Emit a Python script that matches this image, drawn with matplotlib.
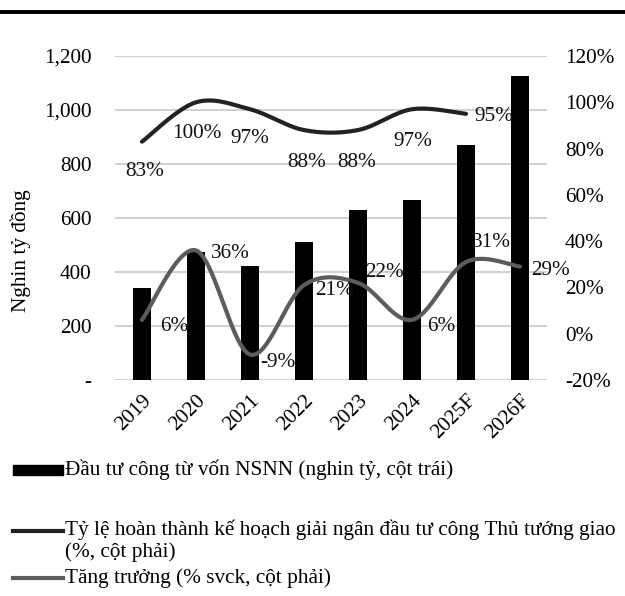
import numpy as np
import matplotlib
matplotlib.use("Agg")
import matplotlib.pyplot as plt
from matplotlib.lines import Line2D
from matplotlib.patches import Rectangle

plt.rcParams['font.family'] = ['Liberation Serif', 'DejaVu Serif']

years = ["2019", "2020", "2021", "2022", "2023", "2024", "2025F", "2026F"]
investment = [342, 475, 423, 512, 630, 667, 870, 1126]
completion = [83, 100, 97, 88, 88, 97, 95]
growth = [6, 36, -9, 21, 22, 6, 31, 29]

completion_offsets = [(3, -30), (1, -31), (0, -29), (3, -32), (-1, -32), (1, -32), (28, -3)]
growth_offsets = [(32, -7), (34, -3), (28, -8), (31, -5), (26, 10), (29, -7), (25, 19), (31, -4)]

legend_bar = "Đầu tư công từ vốn NSNN (nghin tỷ, cột trái)"
legend_completion = "Tỷ lệ hoàn thành kế hoạch giải ngân đầu tư công Thủ tướng giao\n(%, cột phải)"
legend_growth = "Tăng trưởng (% svck, cột phải)"
ylabel = "Nghin tỷ đồng"

W, H = 625, 596
fig = plt.figure(figsize=(W / 100, H / 100), dpi=100)
ax = fig.add_axes([115 / W, 1 - 380 / H, 432 / W, 324 / H])
ax2 = ax.twinx()

FS = 15.3
c_comp = "#222222"
c_grow = "#5c5c5c"


def smooth(xs, ys, n=30):
    xs = np.asarray(xs, float)
    ys = np.asarray(ys, float)
    px, py = [], []
    m = len(xs)
    for i in range(m - 1):
        x0, y0 = xs[max(i - 1, 0)], ys[max(i - 1, 0)]
        x1, y1 = xs[i], ys[i]
        x2, y2 = xs[i + 1], ys[i + 1]
        x3, y3 = xs[min(i + 2, m - 1)], ys[min(i + 2, m - 1)]
        c1x, c1y = x1 + (x2 - x0) / 6, y1 + (y2 - y0) / 6
        c2x, c2y = x2 - (x3 - x1) / 6, y2 - (y3 - y1) / 6
        t = np.linspace(0, 1, n)
        bx = (1 - t) ** 3 * x1 + 3 * (1 - t) ** 2 * t * c1x + 3 * (1 - t) * t ** 2 * c2x + t ** 3 * x2
        by = (1 - t) ** 3 * y1 + 3 * (1 - t) ** 2 * t * c1y + 3 * (1 - t) * t ** 2 * c2y + t ** 3 * y2
        px.extend(bx)
        py.extend(by)
    return np.array(px), np.array(py)


x = np.arange(len(years))
ax.bar(x, investment, width=0.32, color="black", zorder=2)
ax.set_xlim(-0.5, len(years) - 0.5)
ax.set_ylim(0, 1200)
ax.set_yticks(range(0, 1201, 200))
ax.set_yticklabels(["-"] + [f"{v:,}" for v in range(200, 1201, 200)])
ax.yaxis.grid(True, color="#c8c8c8", linewidth=1.2, zorder=0)
ax.set_axisbelow(True)
ax.set_xticks(x)
ax.set_xticklabels(years, rotation=45, ha="right", rotation_mode="anchor")
for s in ax.spines.values():
    s.set_visible(False)
for s in ax2.spines.values():
    s.set_visible(False)
ax.tick_params(axis="both", length=0, labelsize=FS)
ax.tick_params(axis="y", pad=17)
ax.tick_params(axis="x", pad=8)
ax.set_ylabel(ylabel, fontsize=FS)
ax.yaxis.set_label_coords(-0.195, 0.40)

ax2.set_ylim(-20, 120)
ax2.set_yticks(range(-20, 121, 20))
ax2.set_yticklabels([f"{v}%" for v in range(-20, 121, 20)])
ax2.tick_params(axis="y", length=0, labelsize=FS, pad=13)

xc, yc = smooth(x[:len(completion)], completion)
ax2.plot(xc, yc, color=c_comp, linewidth=3.0, solid_capstyle="round", zorder=3)
xg, yg = smooth(x, growth)
ax2.plot(xg, yg, color=c_grow, linewidth=3.0, solid_capstyle="round", zorder=3)

for i, v in enumerate(completion):
    ax2.annotate(f"{v}%", xy=(x[i], v), xytext=completion_offsets[i], textcoords="offset pixels",
                 ha="center", va="center", fontsize=FS, color="#111111")
for i, v in enumerate(growth):
    ax2.annotate(f"{v}%", xy=(x[i], v), xytext=growth_offsets[i], textcoords="offset pixels",
                 ha="center", va="center", fontsize=FS, color="#111111")

# top rule
fig.add_artist(Line2D([0, 1], [1 - 12 / H, 1 - 12 / H], color="black", linewidth=2.8,
                      transform=fig.transFigure))

# manual legend
fig.add_artist(Rectangle((13 / W, 1 - 475 / H), 50 / W, 10 / H, color="black",
                         transform=fig.transFigure))
fig.text(65 / W, 1 - 470 / H, legend_bar, fontsize=FS, va="center", ha="left")
fig.add_artist(Line2D([13 / W, 63 / W], [1 - 531 / H, 1 - 531 / H], color=c_comp, linewidth=3,
                      transform=fig.transFigure))
fig.text(65 / W, 1 - 520 / H, legend_completion, fontsize=FS, va="top", ha="left", linespacing=1.1)
fig.add_artist(Line2D([13 / W, 63 / W], [1 - 578 / H, 1 - 578 / H], color=c_grow, linewidth=3,
                      transform=fig.transFigure))
fig.text(65 / W, 1 - 578 / H, legend_growth, fontsize=FS, va="center", ha="left")

fig.savefig("out.png", dpi=100)
